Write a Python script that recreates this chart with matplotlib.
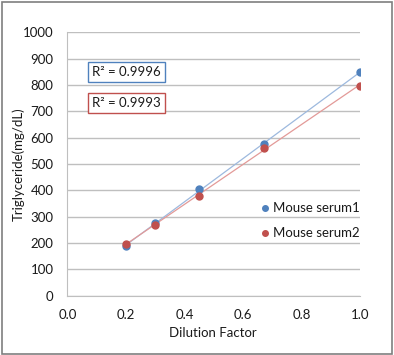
import numpy as np
import matplotlib
matplotlib.use("Agg")
import matplotlib.pyplot as plt
from matplotlib.patches import Rectangle

plt.rcParams['font.family'] = ['Lato', 'DejaVu Sans']

dilution = [0.2, 0.3, 0.45, 0.67, 1.0]
serum1 = [187, 274, 405, 576, 848]
serum2 = [197, 267, 379, 562, 798]
series_names = ["Mouse serum1", "Mouse serum2"]
r2_labels = ["R\u00b2 = 0.9996", "R\u00b2 = 0.9993"]
x_title = "Dilution Factor"
y_title = "Triglyceride(mg/dL)"

blue = "#4F81BD"
red = "#C0504D"
blue_line = "#9DB9DE"
red_line = "#E39A98"
txt = "#1a1a1a"
fs = 9.5
W, H = 394, 355

fig = plt.figure(figsize=(3.94, 3.55), dpi=100)
fig.patches.append(Rectangle((0.004, 0.004), 0.99, 0.99, transform=fig.transFigure,
                             fill=False, edgecolor="#7f7f7f", linewidth=1.2))
ax = fig.add_axes([0.171, 0.1676, 0.743, 0.741])

x = np.array(dilution)
for vals, c, lc, name in [(serum1, blue, blue_line, series_names[0]),
                          (serum2, red, red_line, series_names[1])]:
    p = np.polyfit(x, vals, 1)
    xx = np.array([x.min(), x.max()])
    ax.plot(xx, np.polyval(p, xx), color=lc, linewidth=0.9, zorder=2)
    ax.plot(x, vals, 'o', color=c, markersize=5, label=name, zorder=3)

ax.set_xlim(0, 1.0)
ax.set_ylim(0, 1000)
ax.set_xticks(np.arange(0, 1.01, 0.2))
ax.set_xticklabels([f"{v:.1f}" for v in np.arange(0, 1.01, 0.2)])
ax.set_yticks(np.arange(0, 1001, 100))
ax.yaxis.grid(True, color="#BFBFBF", linewidth=1)
ax.set_axisbelow(True)
ax.tick_params(length=0, labelsize=fs, colors=txt)
ax.tick_params(axis='y', pad=10)
ax.tick_params(axis='x', pad=10)
for s in ['top', 'right']:
    ax.spines[s].set_visible(False)
for s in ['left', 'bottom']:
    ax.spines[s].set_color("#BFBFBF")

fig.text(212.5 / W, 1 - 333 / H, x_title, fontsize=fs, color=txt, ha="center", va="center")
fig.text(18.5 / W, 1 - 164 / H, y_title, fontsize=fs, color=txt, ha="center", va="center",
         rotation=90)

ax.text(0.203, 0.85, r2_labels[0], transform=ax.transAxes, fontsize=fs, color=txt,
        va="center", ha="center",
        bbox=dict(boxstyle="square,pad=0.3", fc="white", ec=blue, lw=1))
ax.text(0.203, 0.732, r2_labels[1], transform=ax.transAxes, fontsize=fs, color=txt,
        va="center", ha="center",
        bbox=dict(boxstyle="square,pad=0.3", fc="white", ec=red, lw=1))

ax.legend(loc="upper left", bbox_to_anchor=(0.62, 0.40), frameon=False, fontsize=fs,
          handlelength=0.6, handletextpad=0.3, labelspacing=1.0, markerscale=0.8,
          labelcolor=txt)

fig.savefig("out.png", dpi=100)
